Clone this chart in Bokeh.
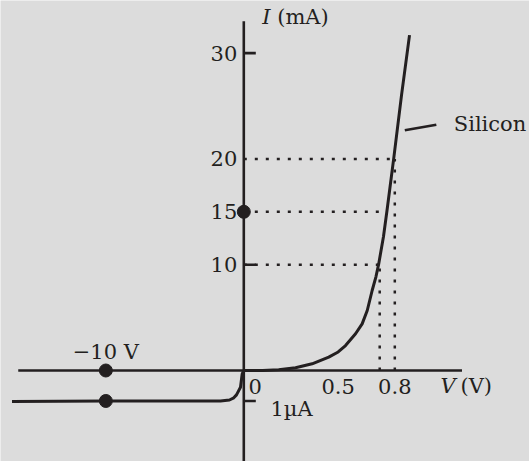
import numpy as np
from bokeh.plotting import figure
from bokeh.models import Range1d
from bokeh.core.properties import value
from bokeh.embed import file_html
from bokeh.resources import INLINE

# ---------------- data ----------------
# Forward characteristic of the silicon diode: V in volts, I in mA
fwd_V = [0.0, 0.10, 0.185, 0.274, 0.362, 0.45, 0.50, 0.539, 0.592, 0.627,
         0.654, 0.68, 0.7004, 0.715, 0.7401, 0.7587, 0.7947, 0.8355, 0.878]
fwd_I = [0.0, 0.01, 0.07, 0.26, 0.63, 1.26, 1.75, 2.36, 3.47, 4.41,
         5.67, 7.56, 8.88, 10.1, 12.67, 15.12, 20.1, 26.0, 31.7]

# Reverse characteristic: V in volts, I in microamps
rev_V = [0.0, -0.116, -0.24, -0.53, -0.725, -1.04, -1.69, -10.0, -16.8]
rev_I = [0.0, -0.108, -0.548, -0.80, -0.896, -0.968, -1.0, -1.0, -1.02]

# y-axis ticks (mA)
ytick_vals = [10, 15, 20, 30]
ytick_labels = ["10", "15", "20", "30"]
ytick_marks = [10, 30]

# x-axis ticks (V)
xtick_vals = [0.5, 0.8]
xtick_labels = ["0.5", "0.8"]

# dotted guide lines
guide_h_I = [10, 15, 20]          # mA
guide_h_V = [0.715, 0.76, 0.80]   # V where they stop
guide_v_V = [0.72, 0.80]          # V
guide_v_I = [10, 20]              # mA

# marked points
dot_fwd_V = [0.0]
dot_fwd_I = [15]
dot_rev_V = [-10, -10]
dot_rev_I_mA = [0.0]              # on the axis
dot_rev_I_uA = [-1.0]             # on the reverse curve

rev_label_V = -10
sat_current_uA = -1.0

# broken-scale factors for the reverse quadrant (display units)
REV_V_SCALE = 0.0731   # display-volts per reverse volt
REV_I_SCALE = 2.88     # display-mA per microamp


def rev_x(v):
    return (np.asarray(v, dtype=float) * REV_V_SCALE).tolist()


def rev_y(i):
    return (np.asarray(i, dtype=float) * REV_I_SCALE).tolist()


BG = "#dcdcdc"
INK = "#231f20"
FONT = value("DejaVu Serif")
FS = "21px"
DOTS = "3 8"

X_AXIS_LEFT, X_AXIS_RIGHT = -1.195, 1.156
Y_AXIS_BOTTOM, Y_AXIS_TOP = -9.5, 33.0

p = figure(width=529, height=461,
           x_range=Range1d(-1.28901, 1.51364),
           y_range=Range1d(-8.6011, 34.9716),
           output_backend="svg", toolbar_location=None,
           x_axis_type=None, y_axis_type=None, min_border=0,
           background_fill_color=BG, border_fill_color=BG,
           outline_line_color=None)
p.xgrid.visible = False
p.ygrid.visible = False

# dotted guides
for v_end, i_lvl in zip(guide_h_V, guide_h_I):
    p.line([0, v_end], [i_lvl, i_lvl], line_color=INK, line_width=2.5,
           line_dash=DOTS, line_cap="butt")
for v_lvl, i_end in zip(guide_v_V, guide_v_I):
    p.line([v_lvl, v_lvl], [0, i_end], line_color=INK, line_width=2.5,
           line_dash=DOTS, line_cap="butt")

# axes
p.line([X_AXIS_LEFT, X_AXIS_RIGHT], [0, 0], line_color=INK, line_width=2.6)
p.line([0, 0], [Y_AXIS_BOTTOM, Y_AXIS_TOP], line_color=INK, line_width=2.6)

# tick marks
p.ray(x=[0, 0, 0], y=ytick_marks + rev_y([sat_current_uA]), length=12,
      length_units="screen", angle=0, line_color=INK, line_width=2.6)

# curves
p.line(fwd_V, fwd_I, line_color=INK, line_width=3, line_join="round")
p.line(rev_x(rev_V), rev_y(rev_I), line_color=INK, line_width=3, line_join="round")

# silicon pointer
sil_V, sil_I = 0.853, 22.7
p.ray(x=[sil_V], y=[sil_I], length=32, length_units="screen", angle=0.176,
      line_color=INK, line_width=2.6)

# labels
common = dict(text_font=FONT, text_font_size=FS, text_color=INK)
p.text(x=[0] * len(ytick_vals), y=ytick_vals, text=ytick_labels, x_offset=-6.5,
       text_align="right", text_baseline="middle", **common)
p.text(x=xtick_vals, y=[0, 0], text=xtick_labels, y_offset=15.5,
       text_align="center", text_baseline="middle", **common)
p.text(x=[0], y=[0], text=["0"], x_offset=11.4, y_offset=15.5,
       text_align="center", text_baseline="middle", **common)
p.text(x=rev_x([rev_label_V]), y=[0], text=["\u221210 V"], y_offset=-18.5,
       text_align="center", text_baseline="middle", **common)
p.text(x=[0], y=rev_y([sat_current_uA]), text=["1\u00b5A"], x_offset=26.7, y_offset=8.5,
       text_align="left", text_baseline="middle", **common)
p.text(x=[0], y=[Y_AXIS_TOP], text=["I"], x_offset=18.4, y_offset=-4,
       text_align="left", text_baseline="middle", text_font_style="italic", **common)
p.text(x=[0], y=[Y_AXIS_TOP], text=["(mA)"], x_offset=33.4, y_offset=-4,
       text_align="left", text_baseline="middle", **common)
p.text(x=[X_AXIS_RIGHT], y=[0], text=["V"], x_offset=-21.5, y_offset=15,
       text_align="left", text_baseline="middle", text_font_style="italic", **common)
p.text(x=[X_AXIS_RIGHT], y=[0], text=["(V)"], x_offset=-1.5, y_offset=15,
       text_align="left", text_baseline="middle", **common)
p.text(x=[sil_V], y=[sil_I], text=["Silicon"], x_offset=49, y_offset=-6,
       text_align="left", text_baseline="middle", **common)

# marked points
p.scatter(dot_fwd_V, dot_fwd_I, size=13, color=INK)
p.scatter(rev_x(dot_rev_V), dot_rev_I_mA + rev_y(dot_rev_I_uA), size=13, color=INK)

open("out.html", "w").write(file_html(p, INLINE))
